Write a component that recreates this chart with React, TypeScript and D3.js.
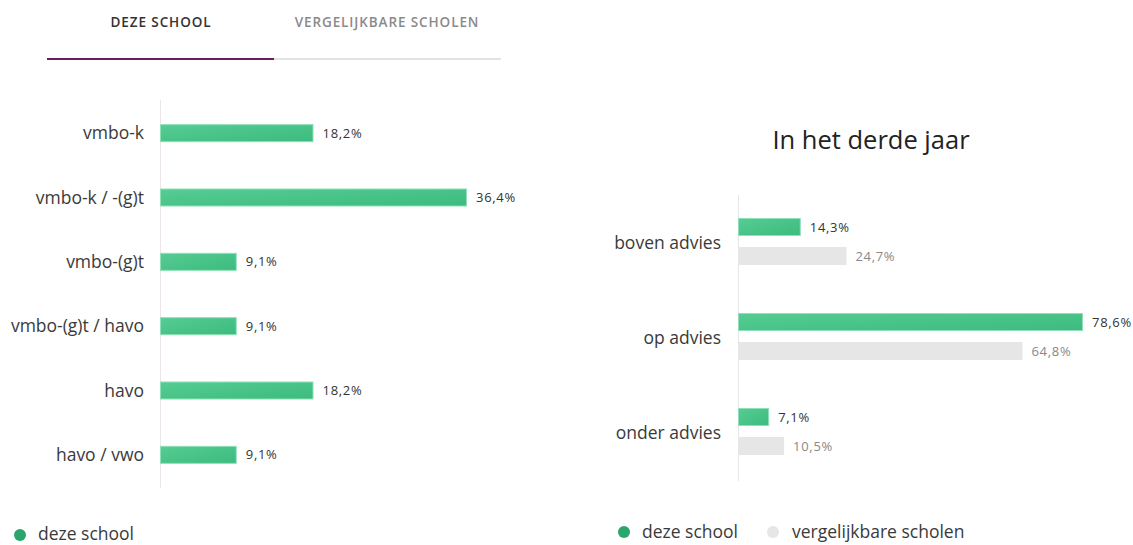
import React from "react";
import * as d3 from "d3";

const tabs = ["DEZE SCHOOL", "VERGELIJKBARE SCHOLEN"];
const leftCategories = ["vmbo-k", "vmbo-k / -(g)t", "vmbo-(g)t", "vmbo-(g)t / havo", "havo", "havo / vwo"];
const leftValues = [18.2, 36.4, 9.1, 9.1, 18.2, 9.1];
const rightTitle = "In het derde jaar";
const rightCategories = ["boven advies", "op advies", "onder advies"];
const rightSchool = [14.3, 78.6, 7.1];
const rightSimilar = [24.7, 64.8, 10.5];
const legendLabels = ["deze school", "vergelijkbare scholen"];

const FONT = "'Open Sans', sans-serif";
const GREY = "#e6e6e6";
const LBL = 17.5;
const VAL = 13;
const fmt = (v: number) => v.toFixed(1).replace(".", ",") + "%";

export default function App() {
  // left chart scales
  const lx = d3.scaleLinear().domain([0, 36.4]).range([160, 467]);
  const ly = d3.scaleBand<string>().domain(leftCategories).range([101, 487]).paddingInner(0.72).paddingOuter(0.36);
  // right chart scales
  const rx = d3.scaleLinear().domain([0, 78.6]).range([738, 1083]);
  const ry = d3.scaleBand<string>().domain(rightCategories).range([195, 480]).paddingInner(0).paddingOuter(0);
  const barH = 18;

  return (
    <svg width={1133} height={545} style={{ position: "absolute", left: 0, top: 0, fontFamily: FONT }}>
      <defs>
        <linearGradient id="gg" x1="0" y1="0" x2="1" y2="1">
          <stop offset="0" stopColor="#55cc93" />
          <stop offset="1" stopColor="#3dbb7e" />
        </linearGradient>
      </defs>
      {/* tabs */}
      <text x={161} y={27} textAnchor="middle" fontSize={13.5} fontWeight={600} letterSpacing={0.9} fill="#333">{tabs[0]}</text>
      <text x={387} y={27} textAnchor="middle" fontSize={13.5} fontWeight={600} letterSpacing={0.9} fill="#8a8a8a">{tabs[1]}</text>
      <rect x={47} y={58} width={227} height={2} fill="#e3e3e3" />
      <rect x={274} y={58} width={227} height={2} fill="#e3e3e3" />
      <rect x={47} y={58} width={227} height={2} fill="#6e1a61" />

      {/* left chart */}
      <line x1={160.5} x2={160.5} y1={100} y2={488} stroke="#ece6e9" strokeWidth={1} />
      {leftCategories.map((c, i) => {
        const y = ly(c)!;
        const h = ly.bandwidth();
        const cy = y + h / 2;
        return (
          <g key={c}>
            <text x={144} y={cy} dy="0.35em" textAnchor="end" fontSize={LBL} fill="#3a3a3a">{c}</text>
            <rect x={lx(0) + 0.5} y={y + 0.5} width={lx(leftValues[i]) - lx(0) - 1} height={h - 1} fill="url(#gg)" stroke="#8fe0b8" strokeWidth={1} />
            <text x={lx(leftValues[i]) + 9} y={cy} dy="0.35em" fontSize={VAL} letterSpacing={0.7} fill="#333">{fmt(leftValues[i])}</text>
          </g>
        );
      })}
      <circle cx={20} cy={535} r={6} fill="#2aa56b" />
      <text x={38} y={540} fontSize={LBL} fill="#3a3a3a">{legendLabels[0]}</text>

      {/* right chart */}
      <text x={871} y={140} dy="0.35em" textAnchor="middle" fontSize={25.5} fill="#222">{rightTitle}</text>
      <line x1={738.5} x2={738.5} y1={195} y2={481} stroke="#e6e6e6" strokeWidth={1} />
      {rightCategories.map((c, i) => {
        const y0 = ry(c)!;
        const mid = y0 + ry.bandwidth() / 2;
        const gy = mid - 28.5 + 4;
        const sy = mid - 0.5 + 5;
        return (
          <g key={c}>
            <text x={721} y={mid} dy="0.35em" textAnchor="end" fontSize={LBL} fill="#3a3a3a">{c}</text>
            <rect x={rx(0) + 0.5} y={gy + 0.5} width={rx(rightSchool[i]) - rx(0) - 1} height={barH - 1} fill="url(#gg)" stroke="#8fe0b8" strokeWidth={1} />
            <text x={rx(rightSchool[i]) + 9} y={gy + barH / 2} dy="0.35em" fontSize={VAL} letterSpacing={0.7} fill="#333">{fmt(rightSchool[i])}</text>
            <rect x={rx(0)} y={sy} width={rx(rightSimilar[i]) - rx(0)} height={barH} fill={GREY} />
            <text x={rx(rightSimilar[i]) + 9} y={sy + barH / 2} dy="0.35em" fontSize={VAL} letterSpacing={0.7} fill="#888">{fmt(rightSimilar[i])}</text>
          </g>
        );
      })}
      <circle cx={624} cy={532} r={6} fill="#2aa56b" />
      <text x={642} y={532} dy="0.35em" fontSize={LBL} fill="#3a3a3a">{legendLabels[0]}</text>
      <circle cx={773} cy={532} r={6} fill={GREY} />
      <text x={792} y={532} dy="0.35em" fontSize={LBL} fill="#3a3a3a">{legendLabels[1]}</text>
    </svg>
  );
}
